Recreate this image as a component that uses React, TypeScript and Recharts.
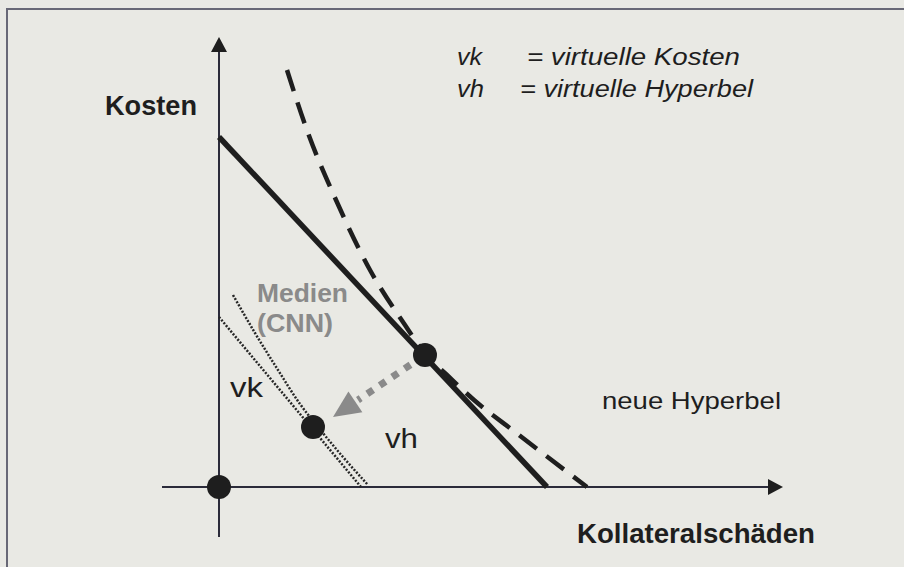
import { ComposedChart, Line, Scatter, XAxis, YAxis } from "recharts";

type Pt = { x: number; y: number };

// units: origin where the axes cross, 1 unit = 10px of the scan
const yAxisLine: Pt[] = [{ x: 0, y: -5.0 }, { x: 0, y: 43.5 }];
const yAxisTip: Pt[] = [{ x: 0, y: 45.0 }];
const xAxisLine: Pt[] = [{ x: -5.7, y: 0 }, { x: 54.9, y: 0 }];
const xAxisTip: Pt[] = [{ x: 56.4, y: 0 }];

const kostenLinie: Pt[] = [{ x: 0, y: 35.0 }, { x: 32.8, y: 0 }];
const neueHyperbel: Pt[] = [
  { x: 6.8, y: 41.7 }, { x: 8.9, y: 35.4 }, { x: 11.7, y: 28.7 }, { x: 15.1, y: 21.7 },
  { x: 18.6, y: 16.2 }, { x: 20.7, y: 13.2 }, { x: 22.8, y: 11.2 }, { x: 25.5, y: 8.7 },
  { x: 29.6, y: 5.5 }, { x: 36.8, y: 0 },
];
const vkLinie: Pt[] = [{ x: 0, y: 17.0 }, { x: 14.2, y: 0 }];
const vhKurve: Pt[] = [
  { x: 1.4, y: 19.2 }, { x: 3.6, y: 15.4 }, { x: 5.9, y: 11.7 }, { x: 8.1, y: 8.3 },
  { x: 9.9, y: 6.0 }, { x: 12.4, y: 3.0 }, { x: 14.9, y: 0.2 },
];
const verschiebung: Pt[] = [{ x: 20.6, y: 13.2 }, { x: 13.9, y: 8.7 }];
const verschiebungTip: Pt[] = [{ x: 11.4, y: 7.0 }];
const punkte: Pt[] = [{ x: 0, y: 0 }, { x: 20.6, y: 13.2 }, { x: 9.4, y: 6.0 }];

const labels = [
  { id: "kosten", text: "Kosten", x: -11.4, y: 37.2 },
  { id: "kollateral", text: "Kollateralschäden", x: 35.8, y: -5.6 },
  { id: "neue", text: "neue Hyperbel", x: 38.3, y: 7.8 },
  { id: "vk", text: "vk", x: 1.1, y: 9.0 },
  { id: "vh", text: "vh", x: 16.6, y: 3.9 },
  { id: "medien", text: "Medien", x: 3.8, y: 18.5 },
  { id: "cnn", text: "(CNN)", x: 3.8, y: 15.5 },
  { id: "legVk", text: "vk", x: 23.8, y: 42.2 },
  { id: "legVkText", text: "= virtuelle Kosten", x: 30.8, y: 42.2 },
  { id: "legVh", text: "vh", x: 23.8, y: 39.0 },
  { id: "legVhText", text: "= virtuelle Hyperbel", x: 30.1, y: 39.0 },
];

const ink = "#1e1e1e";
const grey = "#8a8a8a";
const font = "'Liberation Sans', Arial, sans-serif";

const labelStyle: Record<string, { size: number; weight?: string; italic?: boolean; fill?: string; len: number }> = {
  kosten: { size: 27, weight: "bold", len: 92 },
  kollateral: { size: 27, weight: "bold", len: 238 },
  neue: { size: 24, len: 179 },
  vk: { size: 27, len: 33 },
  vh: { size: 27, len: 33 },
  medien: { size: 26, weight: "bold", fill: grey, len: 91 },
  cnn: { size: 26, weight: "bold", fill: grey, len: 76 },
  legVk: { size: 23, italic: true, len: 25 },
  legVkText: { size: 23, italic: true, len: 213 },
  legVh: { size: 23, italic: true, len: 27 },
  legVhText: { size: 23, italic: true, len: 233 },
};

// x and y use the same px per unit, so the data angle is the screen angle
function arrowHead(from: Pt, to: Pt, len: number, width: number, fill: string) {
  const a = Math.atan2(-(to.y - from.y), to.x - from.x);
  const c = Math.cos(a);
  const s = Math.sin(a);
  return (props: any) => {
    const { cx, cy } = props;
    const bx = cx - len * c;
    const by = cy - len * s;
    const px = (-s * width) / 2;
    const py = (c * width) / 2;
    return <polygon points={`${cx},${cy} ${bx + px},${by + py} ${bx - px},${by - py}`} fill={fill} />;
  };
}

const dotShape = (props: any) => <circle cx={props.cx} cy={props.cy} r={12} fill={ink} />;

const textShape = (props: any) => {
  const p = props.payload;
  const st = labelStyle[p.id];
  return (
    <text
      x={props.cx}
      y={props.cy}
      fontFamily={font}
      fontSize={st.size}
      fontWeight={st.weight ?? "normal"}
      fontStyle={st.italic ? "italic" : "normal"}
      fill={st.fill ?? ink}
      textLength={st.len}
      lengthAdjust="spacingAndGlyphs"
    >
      {p.text}
    </text>
  );
};

export default function App() {
  return (
    <div style={{ position: "absolute", left: 0, top: 0, width: 904, height: 567, background: "#e9e9e4", overflow: "hidden" }}>
      <div style={{ position: "absolute", left: 6, top: 8, width: 920, height: 600, borderLeft: "2px solid #686876", borderTop: "2px solid #686876" }} />
      <div style={{ position: "absolute", left: 0, top: 0 }}>
        <ComposedChart width={904} height={567} margin={{ top: 0, right: 0, bottom: 0, left: 0 }}>
          <XAxis type="number" dataKey="x" domain={[-21.9, 68.5]} allowDataOverflow hide />
          <YAxis type="number" domain={[-8, 48.7]} allowDataOverflow hide />
          <Line data={yAxisLine} dataKey="y" stroke="#2b2b3a" strokeWidth={2} dot={false} activeDot={false} isAnimationActive={false} />
          <Line data={xAxisLine} dataKey="y" stroke="#2b2b3a" strokeWidth={2} dot={false} activeDot={false} isAnimationActive={false} />
          <Line data={kostenLinie} dataKey="y" stroke={ink} strokeWidth={5.5} dot={false} activeDot={false} isAnimationActive={false} />
          <Line data={neueHyperbel} dataKey="y" type="monotone" stroke={ink} strokeWidth={4.5} strokeDasharray="22 12" dot={false} activeDot={false} isAnimationActive={false} />
          <Line data={vkLinie} dataKey="y" stroke="#262626" strokeWidth={2.5} strokeDasharray="2 1.6" dot={false} activeDot={false} isAnimationActive={false} />
          <Line data={vhKurve} dataKey="y" type="monotone" stroke="#262626" strokeWidth={2.5} strokeDasharray="2 1.6" dot={false} activeDot={false} isAnimationActive={false} />
          <Line data={verschiebung} dataKey="y" stroke={grey} strokeWidth={7} strokeDasharray="7 8" strokeDashoffset={-2.5} dot={false} activeDot={false} isAnimationActive={false} />
          <Scatter data={yAxisTip} dataKey="y" shape={arrowHead(yAxisLine[0], yAxisTip[0], 15, 16, ink)} isAnimationActive={false} />
          <Scatter data={xAxisTip} dataKey="y" shape={arrowHead(xAxisLine[0], xAxisTip[0], 15, 16, ink)} isAnimationActive={false} />
          <Scatter data={verschiebungTip} dataKey="y" shape={arrowHead(verschiebung[0], verschiebungTip[0], 27, 25, grey)} isAnimationActive={false} />
          <Scatter data={punkte} dataKey="y" shape={dotShape} isAnimationActive={false} />
          <Scatter data={labels} dataKey="y" shape={textShape} isAnimationActive={false} />
        </ComposedChart>
      </div>
    </div>
  );
}
